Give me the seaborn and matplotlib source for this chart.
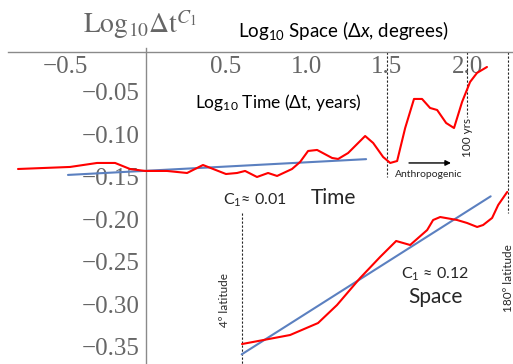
import numpy as np
import pandas as pd
import matplotlib
matplotlib.use("Agg")
import matplotlib.pyplot as plt
from matplotlib.ticker import FixedLocator, FixedFormatter
import seaborn as sns

# ---- data -------------------------------------------------------------
# temporal fluctuation curve: log10 of time lag (years) vs log10 of RMS
time_log_dt = [-0.794, -0.470, -0.302, -0.190, -0.097, -0.004, 0.133, 0.258,
               0.357, 0.500, 0.569, 0.619, 0.693, 0.762, 0.818, 0.911, 0.961,
               1.011, 1.067, 1.160, 1.198, 1.260, 1.366, 1.416, 1.478, 1.522,
               1.565, 1.615, 1.670, 1.720, 1.770, 1.814, 1.870, 1.919, 1.969,
               2.019, 2.062, 2.124]
time_log_var = [-0.1406, -0.1382, -0.1335, -0.1335, -0.1406, -0.1429, -0.1429,
                -0.1453, -0.1359, -0.1465, -0.1453, -0.1429, -0.1500, -0.1453,
                -0.1488, -0.1406, -0.1324, -0.1194, -0.1182, -0.1276, -0.1288,
                -0.1218, -0.1018, -0.1100, -0.1265, -0.1335, -0.1312, -0.0924,
                -0.0582, -0.0582, -0.0688, -0.0712, -0.0865, -0.0924, -0.0618,
                -0.0382, -0.0276, -0.0206]

# spatial fluctuation curve: log10 of lag (degrees) vs log10 of RMS
space_log_dx = [0.600, 0.668, 0.899, 1.073, 1.191, 1.335, 1.459, 1.559, 1.646,
                1.752, 1.789, 1.833, 1.938, 2.000, 2.063, 2.100, 2.156, 2.194,
                2.250]
space_log_var = [-0.3465, -0.3441, -0.3359, -0.3218, -0.3006, -0.2688, -0.2441,
                 -0.2253, -0.2300, -0.2124, -0.2006, -0.1971, -0.2006, -0.2041,
                 -0.2088, -0.2065, -0.1982, -0.1829, -0.1676]

# power-law fits (slope C1), drawn over their fitted ranges
fit_names = ["Time", "Space"]
fit_c1 = [0.01, 0.12]
fit_x_start = [-0.483, 0.598]
fit_x_end = [1.372, 2.147]
fit_x_mid = [0.4445, 1.3725]
fit_y_mid = [-0.1383, -0.2657]

# reference lags: 4 deg, anthropogenic onset, 100 yrs, 180 deg
ref_x = [np.log10(4), 1.5, 2.0, np.log10(180)]
ref_y_from = [-0.1924, -0.003, -0.003, -0.003]
ref_y_to = [-0.375, -0.150, -0.0794, -0.1924]

x_major = [-0.5, 0.5, 1.0, 1.5, 2.0]
x_major_labels = ["\u22120.5", "0.5", "1.0", "1.5", "2.0"]
y_major = [-0.05, -0.10, -0.15, -0.20, -0.25, -0.30, -0.35]
y_major_labels = ["\u22120.05", "\u22120.10", "\u22120.15", "\u22120.20",
                  "\u22120.25", "\u22120.30", "\u22120.35"]

# ---- style ------------------------------------------------------------
sns.set_style("white")
plt.rcParams["font.family"] = ["Lato", "DejaVu Sans"]
plt.rcParams["mathtext.fontset"] = "custom"
plt.rcParams["mathtext.rm"] = "Lato"
plt.rcParams["mathtext.it"] = "Lato:italic"
plt.rcParams["mathtext.bf"] = "Lato:bold"

AXIS_GREY = "#8a8a8a"
TICK_GREY = "#666666"
RED = "#ff0000"
BLUE = "#5b80c0"

fig = plt.figure(figsize=(5.13, 3.64), dpi=100)
ax = fig.add_axes([0, 0, 1, 1])
ax.set_xlim(-0.906, 2.286)
ax.set_ylim(-0.370, 0.0582)

# ---- curves -----------------------------------------------------------
time_df = pd.DataFrame({"lag": time_log_dt, "val": time_log_var})
space_df = pd.DataFrame({"lag": space_log_dx, "val": space_log_var})
sns.lineplot(data=time_df, x="lag", y="val", ax=ax, color=RED, lw=1.5,
             sort=False, estimator=None, zorder=3)
sns.lineplot(data=space_df, x="lag", y="val", ax=ax, color=RED, lw=1.5,
             sort=False, estimator=None, zorder=3)

fit_rows = []
for name, c1, x0, x1, xm, ym in zip(fit_names, fit_c1, fit_x_start, fit_x_end,
                                     fit_x_mid, fit_y_mid):
    for xv in (x0, x1):
        fit_rows.append({"fit": name, "lag": xv, "val": ym + c1 * (xv - xm)})
fit_df = pd.DataFrame(fit_rows)
sns.lineplot(data=fit_df, x="lag", y="val", units="fit", estimator=None,
             ax=ax, color=BLUE, lw=1.5, sort=False, zorder=2)

for xv, y0, y1 in zip(ref_x, ref_y_from, ref_y_to):
    ax.plot([xv, xv], [y0, y1], color="#222222", lw=0.8,
            dashes=(2, 1.6), zorder=1)

# ---- axes in the Mathematica style ------------------------------------
for side in ("top", "right"):
    ax.spines[side].set_visible(False)
ax.spines["left"].set_position(("data", 0))
ax.spines["bottom"].set_position(("data", -0.003))
ax.spines["left"].set_bounds(-0.370, 0.002)
ax.spines["bottom"].set_bounds(-0.856, 2.286)
for side in ("left", "bottom"):
    ax.spines[side].set_color(AXIS_GREY)
    ax.spines[side].set_linewidth(1.0)

ax.xaxis.set_major_locator(FixedLocator(x_major))
ax.xaxis.set_major_formatter(FixedFormatter(x_major_labels))
ax.xaxis.set_minor_locator(FixedLocator(
    [v / 10 for v in range(-8, 23) if v % 5 != 0]))
ax.yaxis.set_major_locator(FixedLocator(y_major))
ax.yaxis.set_major_formatter(FixedFormatter(y_major_labels))
ax.yaxis.set_minor_locator(FixedLocator(
    [-v / 100 for v in range(1, 37) if v % 5 != 0]))

ax.tick_params(which="both", direction="in", colors=AXIS_GREY,
               labelcolor=TICK_GREY, width=0.8)
ax.tick_params(which="major", length=4.0)
ax.tick_params(which="minor", length=2.0)
ax.tick_params(axis="x", which="major", pad=3)
ax.tick_params(axis="y", which="major", pad=4)
for lab in ax.get_xticklabels() + ax.get_yticklabels():
    lab.set_fontfamily(["Liberation Serif", "DejaVu Serif"])
    lab.set_fontsize(18)
ax.set_xlabel("")
ax.set_ylabel("")

# ---- annotations ------------------------------------------------------
ax.text(-0.390, 0.0194, r"$\mathrm{Log}_{10}\Delta\mathrm{t}^{C_1}$",
        fontsize=20, color="#666666", math_fontfamily="stix",
        ha="left", va="baseline")
ax.text(0.575, 0.0147, r"$\mathrm{Log}_{10}$ Space (Δ$x$, degrees)",
        fontsize=13.5, color="black", ha="left", va="baseline")
ax.text(0.307, -0.0688, r"$\mathrm{Log}_{10}$ Time (Δt, years)",
        fontsize=12.5, color="black", ha="left", va="baseline")
ax.text(1.760, -0.1465, "Anthropogenic", fontsize=7.5, ha="center",
        va="center")
ax.annotate("", xy=(1.900, -0.1335), xytext=(1.639, -0.1335),
            arrowprops=dict(arrowstyle="-|>", color="black", lw=1.0,
                            mutation_scale=8, shrinkA=0, shrinkB=0))
ax.text(2.003, -0.1041, "100 yrs", fontsize=8.5, rotation=90,
        ha="center", va="center")
ax.text(0.681, -0.177, r"C$_1$≈ 0.01", fontsize=11.5, ha="center",
        va="center")
ax.text(1.166, -0.1747, "Time", fontsize=15, ha="center", va="center")
ax.text(1.801, -0.2641, r"C$_1$ ≈ 0.12", fontsize=11.5, ha="center",
        va="center")
ax.text(1.804, -0.2982, "Space", fontsize=15, ha="center", va="baseline")
ax.text(0.494, -0.2947, "4º latitude", fontsize=8.5, rotation=90,
        ha="center", va="center")
ax.text(2.258, -0.2688, "180º latitude", fontsize=8.5, rotation=90,
        ha="center", va="center")

fig.savefig("out.png", dpi=100)
